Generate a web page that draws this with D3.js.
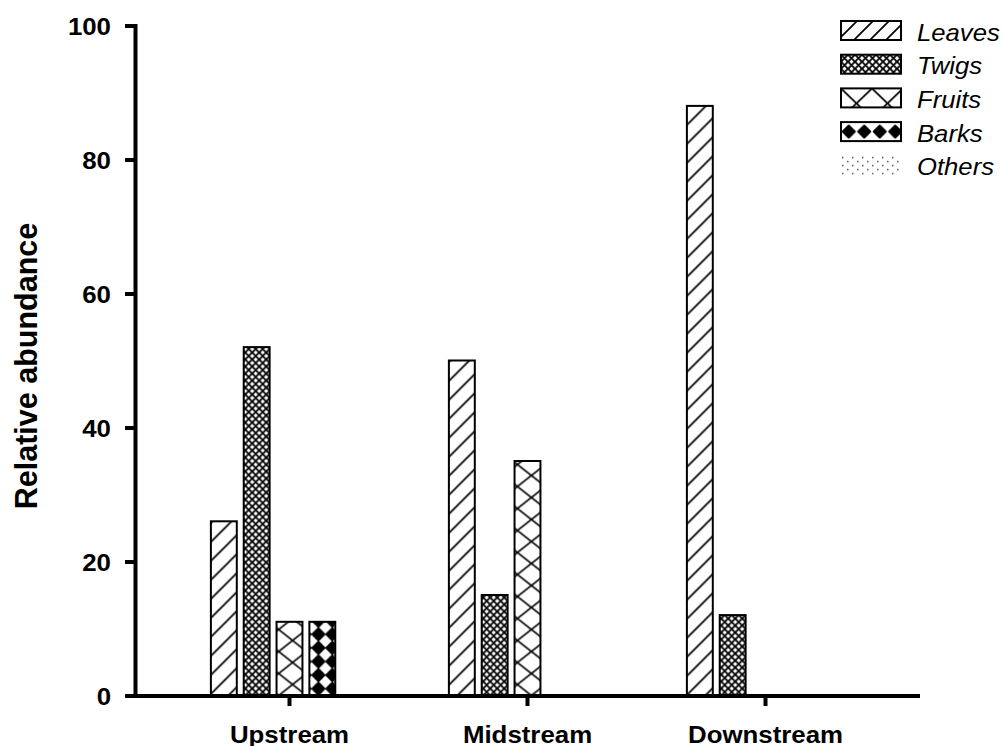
<!DOCTYPE html>
<html>
<head>
<meta charset="utf-8">
<script src="https://cdn.jsdelivr.net/npm/d3@7"></script>
<style>
  html, body { margin: 0; padding: 0; background: #fff; }
  svg { display: block; font-family: "Liberation Sans", Arial, Helvetica, sans-serif; }
</style>
</head>
<body>
<svg id="chart" width="1004" height="746"></svg>
<script>
// Sites along the stream and the litter fractions collected at each
const sites = ["Upstream", "Midstream", "Downstream"];
const fractions = ["Leaves", "Twigs", "Fruits", "Barks", "Others"];

// Relative abundance (%) of each fraction, one array per fraction, ordered as `sites`
const leaves = [26, 50, 88];
const twigs  = [52, 15, 12];
const fruits = [11, 35, 0];
const barks  = [11, 0, 0];
const others = [0, 0, 0];

const yTicks = [0, 20, 40, 60, 80, 100];
const yTitle = "Relative abundance";

const seriesValues = { Leaves: leaves, Twigs: twigs, Fruits: fruits, Barks: barks, Others: others };
const rows = sites.map((s, i) => ({ site: s, values: fractions.map(f => ({ key: f, value: seriesValues[f][i] })) }));

const svg = d3.select("#chart");
const defs = svg.append("defs");
const FONT = "'Liberation Sans', Arial, sans-serif";
const AXIS_STRETCH = 1.1;    // axis labels are set slightly wide
const LEGEND_STRETCH = 1.07;

// Scales
const y = d3.scaleLinear().domain([0, 100]).range([695.5, 25.5]);
const x0 = d3.scaleBand().domain(sites).range([170.5, 884.5]).padding(0);
const x1 = d3.scaleBand().domain(fractions).range([0, x0.bandwidth()])
  .paddingInner(0.15).paddingOuter(1.2);

// Fill patterns, drawn into a tile anchored at (ox, oy)
function makePattern(id, kind, ox, oy, legend) {
  const bw = x1.bandwidth();
  const p = defs.append("pattern").attr("id", id)
    .attr("patternUnits", "userSpaceOnUse").attr("x", ox).attr("y", oy);
  p.append("rect").attr("width", 200).attr("height", 200).attr("fill", "#fff");
  if (kind === "Leaves") {
    const s = legend ? 16 : 19;
    p.attr("width", s).attr("height", s);
    p.append("path")
      .attr("d", `M0,${s}L${s},0M-2,2L2,-2M${s - 2},${s + 2}L${s + 2},${s - 2}`)
      .attr("stroke", "#000").attr("stroke-width", 1.7);
  } else if (kind === "Twigs") {
    const s = 7;
    p.attr("width", s).attr("height", s);
    p.append("path")
      .attr("d", `M0,0L${s},${s}M${s},0L0,${s}M-1,1L1,-1M${s - 1},${s + 1}L${s + 1},${s - 1}M-1,${s - 1}L1,${s + 1}M${s - 1},-1L${s + 1},1`)
      .attr("stroke", "#000").attr("stroke-width", 1.8);
  } else if (kind === "Fruits") {
    const w = legend ? 31 : bw, h = legend ? 30 : 22;
    p.attr("width", w).attr("height", h);
    p.append("path")
      .attr("d", `M0,0L${w},${h}M${w},0L0,${h}`)
      .attr("stroke", "#000").attr("stroke-width", 1.7);
  } else if (kind === "Barks") {
    const w = legend ? 15.5 : bw / 2, h = legend ? 19 : 13.6;
    const r = 6;
    p.attr("width", w).attr("height", h);
    p.append("path")
      .attr("d", `M${w / 2},${h / 2 - r}L${w / 2 + r},${h / 2}L${w / 2},${h / 2 + r}L${w / 2 - r},${h / 2}Z`)
      .attr("fill", "#000").attr("stroke", "#000").attr("stroke-width", 2)
      .attr("stroke-linejoin", "round");
  } else {
    const w = 10, h = 8;
    p.attr("width", w).attr("height", h);
    p.append("rect").attr("x", 1).attr("y", 1).attr("width", 1.5).attr("height", 1.5).attr("fill", "#555");
    p.append("rect").attr("x", 6).attr("y", 5).attr("width", 1.5).attr("height", 1.5).attr("fill", "#555");
  }
  return `url(#${id})`;
}

// Bars
const groups = svg.append("g").selectAll("g").data(rows).join("g")
  .attr("transform", d => `translate(${x0(d.site)},0)`);

groups.each(function (row, gi) {
  const g = d3.select(this);
  row.values.filter(v => v.value > 0).forEach(v => {
    const bx = x0(row.site) + x1(v.key);
    const fill = makePattern(`pat-${v.key}-${gi}`, v.key, bx, y(0), false);
    g.append("rect")
      .attr("x", x1(v.key) + 1)
      .attr("y", y(v.value))
      .attr("width", x1.bandwidth() - 2)
      .attr("height", y(0) - y(v.value))
      .attr("fill", fill)
      .attr("stroke", "#000")
      .attr("stroke-width", 2);
  });
});

// Y axis
const yAxis = svg.append("g").attr("transform", "translate(135,0)")
  .call(d3.axisLeft(y).tickValues(yTicks).tickSize(10).tickSizeOuter(0).tickPadding(0));
yAxis.select(".domain").attr("stroke", "#000").attr("stroke-width", 4).attr("stroke-linecap", "square");
yAxis.selectAll(".tick line").attr("stroke", "#000").attr("stroke-width", 4);
yAxis.selectAll(".tick text")
  .attr("x", 0).attr("dy", null).attr("y", 0)
  .attr("transform", `translate(-24,8.5) scale(${AXIS_STRETCH},1)`)
  .attr("font-size", 23.5).attr("font-weight", "bold").attr("fill", "#000")
  .attr("font-family", FONT);
yAxis.selectAll(".tick").filter(d => d === 0).select("line").remove();

// X axis: baseline spans the full plot, ticks at site centres
svg.append("line")
  .attr("x1", 125).attr("x2", 920)
  .attr("y1", y(0) + 0.5).attr("y2", y(0) + 0.5)
  .attr("stroke", "#000").attr("stroke-width", 4);

const xAxis = svg.append("g").attr("transform", `translate(0,${y(0) + 0.5})`)
  .call(d3.axisBottom(x0).tickSize(10).tickSizeOuter(0));
xAxis.select(".domain").remove();
xAxis.selectAll(".tick line").attr("stroke", "#000").attr("stroke-width", 4);
xAxis.selectAll(".tick text")
  .attr("y", 0).attr("dy", null)
  .attr("transform", `translate(0,46.5) scale(${AXIS_STRETCH},1)`)
  .attr("font-size", 23.5).attr("font-weight", "bold").attr("fill", "#000")
  .attr("font-family", FONT);

// Y axis title
svg.append("text")
  .attr("transform", "translate(37,366) rotate(-90)")
  .attr("text-anchor", "middle")
  .attr("font-size", 30.5).attr("font-weight", "bold")
  .text(yTitle);

// Legend
const legend = svg.append("g");
fractions.forEach((f, i) => {
  const top = 21 + i * 33.7;
  const fill = makePattern(`leg-${f}`, f, 841, top, true);
  legend.append("rect")
    .attr("x", 841).attr("y", top).attr("width", 60).attr("height", 19)
    .attr("fill", fill)
    .attr("stroke", f === "Others" ? "none" : "#000")
    .attr("stroke-width", 2);
  legend.append("text")
    .attr("transform", `translate(917,${top + 19.5}) scale(${LEGEND_STRETCH},1)`)
    .attr("font-size", 24).attr("font-style", "italic")
    .text(f);
});
</script>
</body>
</html>
